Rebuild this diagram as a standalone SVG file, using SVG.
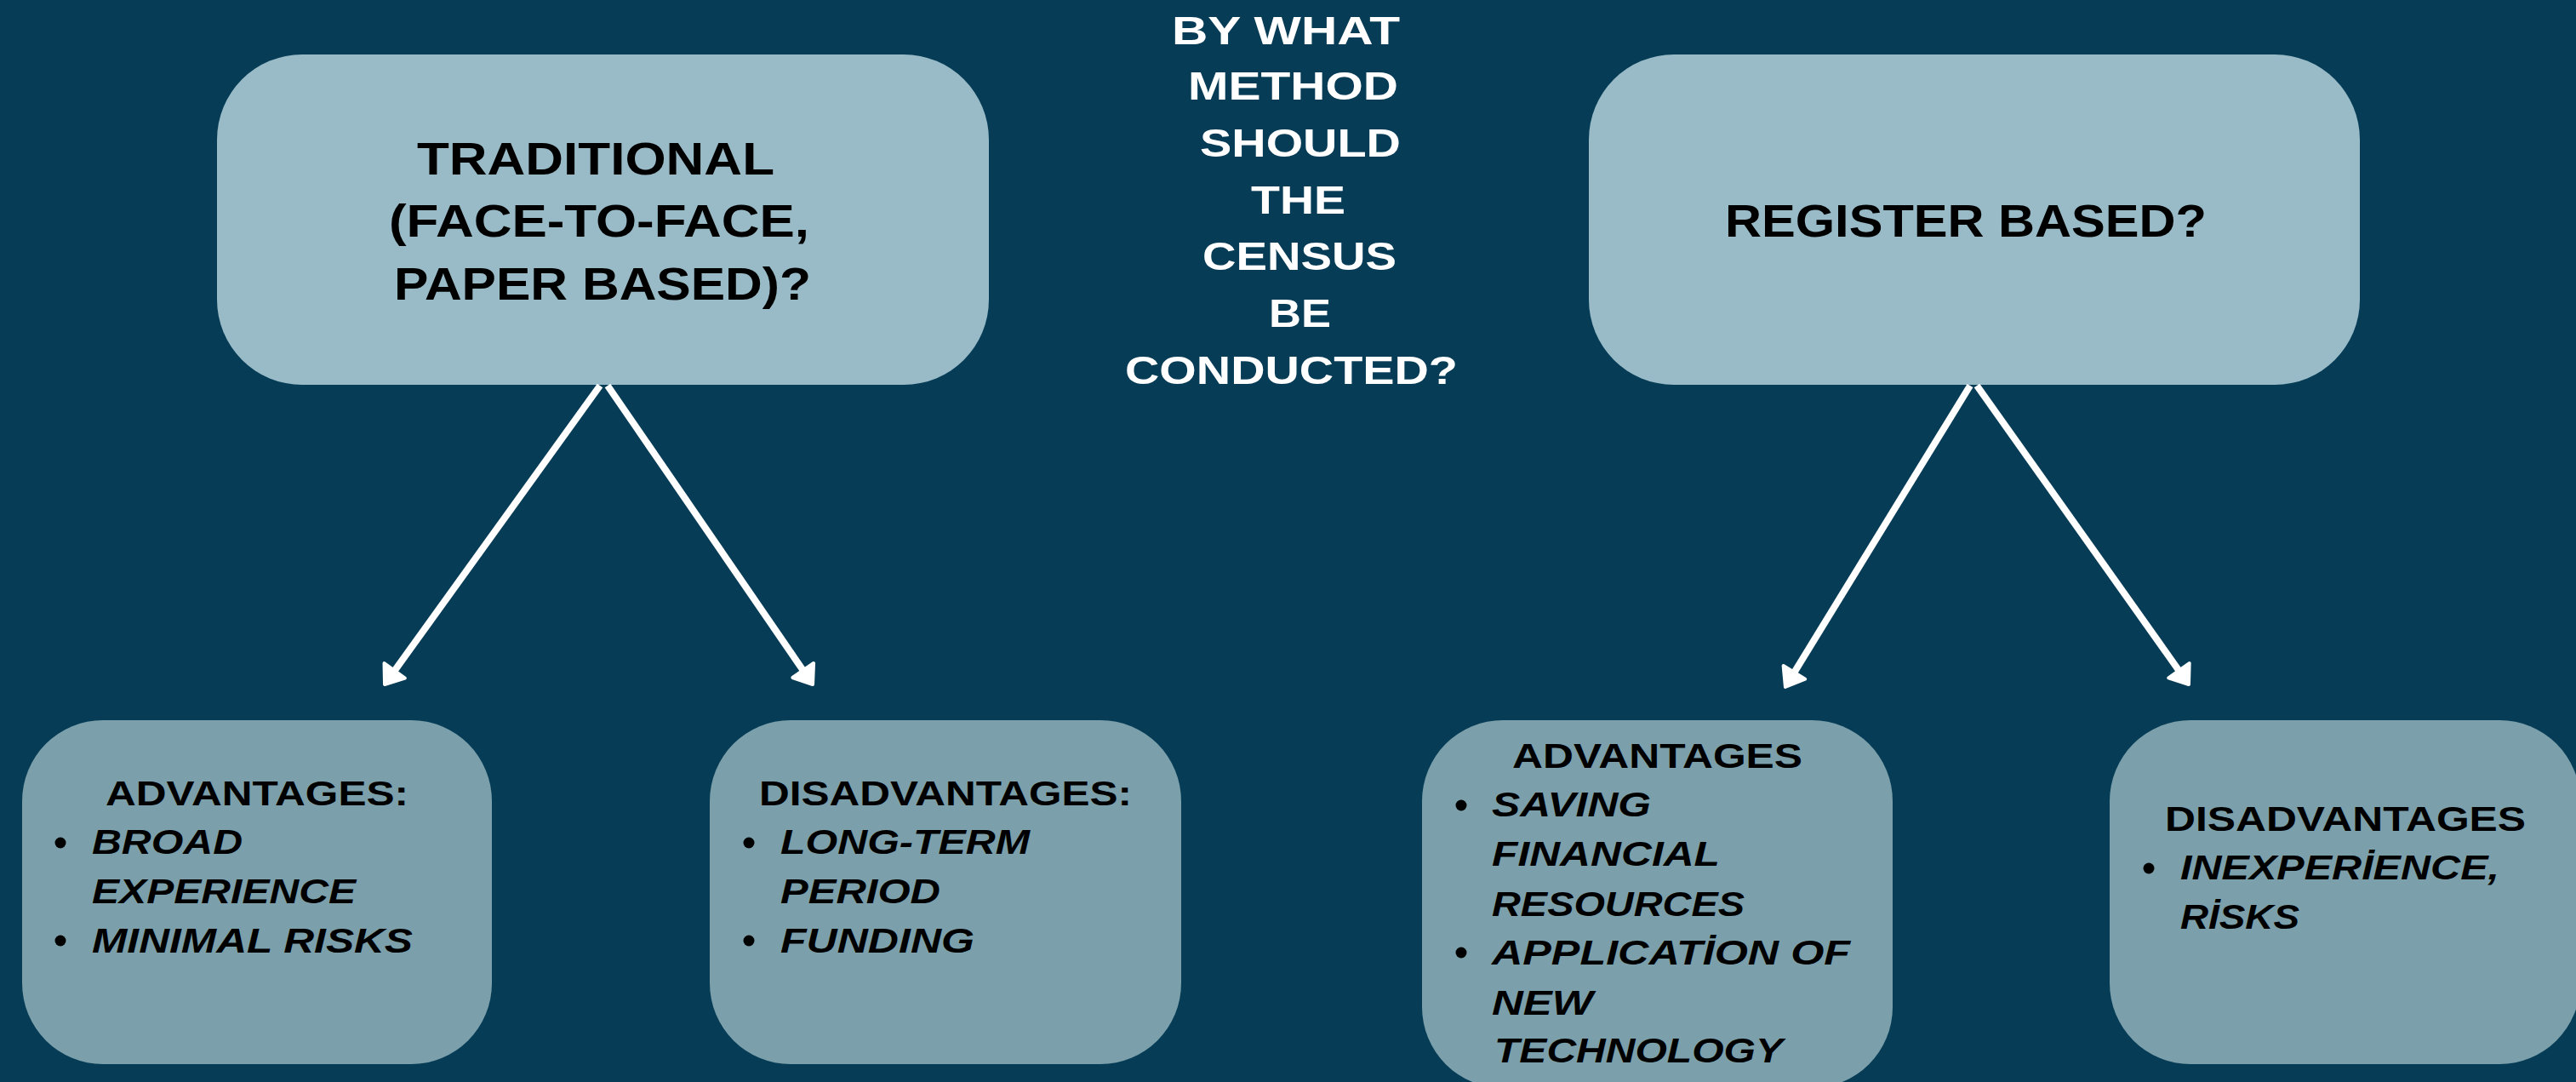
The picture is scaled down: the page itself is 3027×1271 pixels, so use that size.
<svg xmlns="http://www.w3.org/2000/svg" width="3027" height="1271" viewBox="0 0 3027 1271">
<defs>
<style>
.bg{fill:#063c56}
.top{fill:#98bbc7}
.sub{fill:#7ba0ab}
.t{font-family:"Liberation Sans",Arial,sans-serif;font-weight:bold;fill:#000}
.tb{font-size:53px;text-anchor:start}
.c{font-family:"Liberation Sans",Arial,sans-serif;font-weight:bold;font-size:47px;fill:#fff}
.h{font-size:40px}
.i{font-family:"Liberation Sans",Arial,sans-serif;font-style:italic;font-weight:600;font-size:40px;fill:#000}
.dot{fill:#000}
.arrow{stroke:#fff;stroke-width:8;fill:none;marker-end:url(#ah)}
</style>
<marker id="ah" markerUnits="userSpaceOnUse" markerWidth="50" markerHeight="50" viewBox="-5 -25 50 50" refX="0" refY="0" orient="auto" overflow="visible">
<path d="M0,-15 L20,0 L0,15 Z" fill="#fff" stroke="#fff" stroke-width="4" stroke-linejoin="round"/>
</marker>
</defs>
<rect class="bg" x="0" y="0" width="3027" height="1271"/>

<g id="question">
<text class="c" x="1377" y="52" textLength="268" lengthAdjust="spacingAndGlyphs">BY WHAT</text>
<text class="c" x="1396" y="117" textLength="247" lengthAdjust="spacingAndGlyphs">METHOD</text>
<text class="c" x="1410" y="184" textLength="236" lengthAdjust="spacingAndGlyphs">SHOULD</text>
<text class="c" x="1470" y="251" textLength="111" lengthAdjust="spacingAndGlyphs">THE</text>
<text class="c" x="1413" y="317" textLength="228" lengthAdjust="spacingAndGlyphs">CENSUS</text>
<text class="c" x="1491" y="384" textLength="73" lengthAdjust="spacingAndGlyphs">BE</text>
<text class="c" x="1322" y="451" textLength="391" lengthAdjust="spacingAndGlyphs">CONDUCTED?</text>
</g>

<g id="traditional">
<rect class="top" x="255" y="64" width="907" height="388" rx="100" ry="100"/>
<text class="t tb" x="490" y="205" textLength="420" lengthAdjust="spacingAndGlyphs">TRADITIONAL</text>
<text class="t tb" x="457" y="278" textLength="494" lengthAdjust="spacingAndGlyphs">(FACE-TO-FACE,</text>
<text class="t tb" x="463" y="352" textLength="490" lengthAdjust="spacingAndGlyphs">PAPER BASED)?</text>
</g>

<g id="register">
<rect class="top" x="1867" y="64" width="906" height="388" rx="100" ry="100"/>
<text class="t tb" x="2027" y="278" textLength="566" lengthAdjust="spacingAndGlyphs">REGISTER BASED?</text>
</g>

<g id="connectors">
<line class="arrow" x1="705" y1="453" x2="463.7" y2="787.8"/>
<line class="arrow" x1="714" y1="453" x2="943.7" y2="787.5"/>
<line class="arrow" x1="2315" y1="453" x2="2108.4" y2="789.9"/>
<line class="arrow" x1="2323" y1="453" x2="2560.4" y2="787.7"/>
</g>

<g id="trad-advantages">
<rect class="sub" x="26" y="846" width="552" height="404" rx="95" ry="95"/>
<text class="t h" x="124" y="946" textLength="356" lengthAdjust="spacingAndGlyphs">ADVANTAGES:</text>
<circle class="dot" cx="71" cy="990" r="6.5"/>
<text class="i" x="108" y="1003" textLength="177" lengthAdjust="spacingAndGlyphs">BROAD</text>
<text class="i" x="108" y="1061" textLength="310" lengthAdjust="spacingAndGlyphs">EXPERIENCE</text>
<circle class="dot" cx="71" cy="1105" r="6.5"/>
<text class="i" x="108" y="1119" textLength="377" lengthAdjust="spacingAndGlyphs">MINIMAL RISKS</text>
</g>

<g id="trad-disadvantages">
<rect class="sub" x="834" y="846" width="554" height="404" rx="95" ry="95"/>
<text class="t h" x="892" y="946" textLength="438" lengthAdjust="spacingAndGlyphs">DISADVANTAGES:</text>
<circle class="dot" cx="880" cy="990" r="6.5"/>
<text class="i" x="917" y="1003" textLength="293" lengthAdjust="spacingAndGlyphs">LONG-TERM</text>
<text class="i" x="917" y="1061" textLength="188" lengthAdjust="spacingAndGlyphs">PERIOD</text>
<circle class="dot" cx="880" cy="1105" r="6.5"/>
<text class="i" x="917" y="1119" textLength="228" lengthAdjust="spacingAndGlyphs">FUNDING</text>
</g>

<g id="reg-advantages">
<rect class="sub" x="1671" y="846" width="553" height="432" rx="95" ry="95"/>
<text class="t h" x="1777" y="902" textLength="341" lengthAdjust="spacingAndGlyphs">ADVANTAGES</text>
<circle class="dot" cx="1717" cy="946" r="6.5"/>
<text class="i" x="1753" y="959" textLength="187" lengthAdjust="spacingAndGlyphs">SAVING</text>
<text class="i" x="1753" y="1017" textLength="268" lengthAdjust="spacingAndGlyphs">FINANCIAL</text>
<text class="i" x="1753" y="1076" textLength="297" lengthAdjust="spacingAndGlyphs">RESOURCES</text>
<circle class="dot" cx="1717" cy="1119" r="6.5"/>
<text class="i" x="1753" y="1133" textLength="421" lengthAdjust="spacingAndGlyphs">APPLICATİON OF</text>
<text class="i" x="1753" y="1192" textLength="119" lengthAdjust="spacingAndGlyphs">NEW</text>
<text class="i" x="1756" y="1248" textLength="339" lengthAdjust="spacingAndGlyphs">TECHNOLOGY</text>
</g>

<g id="reg-disadvantages">
<rect class="sub" x="2479" y="846" width="553" height="404" rx="95" ry="95"/>
<text class="t h" x="2544" y="976" textLength="424" lengthAdjust="spacingAndGlyphs">DISADVANTAGES</text>
<circle class="dot" cx="2525" cy="1020" r="6.5"/>
<text class="i" x="2562" y="1033" textLength="375" lengthAdjust="spacingAndGlyphs">INEXPERİENCE,</text>
<text class="i" x="2562" y="1091" textLength="140" lengthAdjust="spacingAndGlyphs">RİSKS</text>
</g>
</svg>
